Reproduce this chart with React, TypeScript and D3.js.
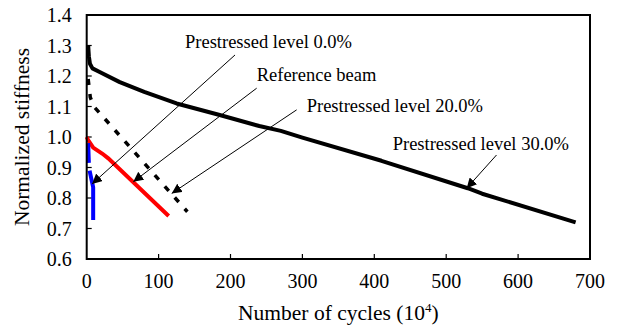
import React, { useEffect, useRef } from "react";
import * as d3 from "d3";

// series values: [cycles (10^4), normalized stiffness]
const level30 = [
  [2, 1.3], [3, 1.265], [4.5, 1.24], [8, 1.225], [18, 1.213], [46, 1.18], [80, 1.148],
  [125, 1.11], [185, 1.072], [240, 1.036], [270, 1.02], [300, 0.998], [410, 0.922],
  [530, 0.832], [550, 0.814], [680, 0.72],
];
const level20 = [[2, 1.19], [5, 1.13], [10, 1.1], [140, 0.755]];
const reference = [[0, 1.0], [2, 0.99], [9, 0.965], [22, 0.945], [30, 0.93], [114, 0.741]];
// null marks the break in the blue curve
const level0 = [[2, 0.98], [3, 0.915], [3, null], [4, 0.89], [9, 0.835], [9, 0.728]];

const xTicks = [0, 100, 200, 300, 400, 500, 600, 700];
const yTicks = [0.6, 0.7, 0.8, 0.9, 1.0, 1.1, 1.2, 1.3, 1.4];

// annotation labels: text, anchor in data units, arrow start and tip in data units
const labelText = ["Prestressed level 0.0%", "Reference beam", "Prestressed level 20.0%", "Prestressed level 30.0%"];
const labelPos = [[136.7, 1.292], [236.4, 1.184], [306, 1.082], [425.6, 0.959]];
const arrowFrom = [[206.3, 1.269], [236.4, 1.16], [292, 1.089], [570, 0.941]];
const arrowTo = [[7.4, 0.846], [64.8, 0.853], [118.2, 0.815], [528.5, 0.832]];

const W = 617, H = 329;
const margin = { top: 15, right: 27, bottom: 70, left: 86.7 };
const font = "Liberation Serif, Times New Roman, DejaVu Serif, serif";

export default function App() {
  const ref = useRef(null);

  useEffect(() => {
    const root = d3.select(ref.current);
    root.selectAll("*").remove();
    root.attr("font-family", font);

    const width = W - margin.left - margin.right;
    const height = H - margin.top - margin.bottom;

    const x = d3.scaleLinear().domain([0, 700]).range([0, width]);
    const y = d3.scaleLinear().domain([0.6, 1.4]).range([height, 0]);

    const defs = root.append("defs");
    defs.append("marker")
      .attr("id", "arrow")
      .attr("viewBox", "0 0 10 10")
      .attr("refX", 10).attr("refY", 5)
      .attr("markerWidth", 10).attr("markerHeight", 10)
      .attr("markerUnits", "userSpaceOnUse")
      .attr("orient", "auto")
      .append("path")
      .attr("d", "M0,0 L10,5 L0,10 z")
      .attr("fill", "#000");

    const g = root.append("g").attr("transform", `translate(${margin.left},${margin.top})`);

    // ticks inside the frame
    g.selectAll(".xt").data(xTicks.slice(1, -1)).enter().append("line")
      .attr("x1", d => x(d)).attr("x2", d => x(d))
      .attr("y1", height).attr("y2", height - 5)
      .attr("stroke", "#000").attr("stroke-width", 1.2);
    g.selectAll(".yt").data(yTicks.slice(1, -1)).enter().append("line")
      .attr("y1", d => y(d)).attr("y2", d => y(d))
      .attr("x1", 0).attr("x2", 5)
      .attr("stroke", "#000").attr("stroke-width", 1.2);

    g.selectAll(".xl").data(xTicks).enter().append("text")
      .attr("x", d => x(d)).attr("y", height + 29)
      .attr("text-anchor", "middle")
      .attr("font-size", 20)
      .text(d => d);
    g.selectAll(".yl").data(yTicks).enter().append("text")
      .attr("x", -15).attr("y", d => y(d))
      .attr("text-anchor", "end").attr("dominant-baseline", "central")
      .attr("font-size", 20)
      .text(d => d.toFixed(1));

    const line = d3.line()
      .defined(d => d[1] != null)
      .x(d => x(d[0])).y(d => y(d[1]));

    g.append("path").datum(level20).attr("d", line)
      .attr("fill", "none").attr("stroke", "#000").attr("stroke-width", 3.5)
      .attr("stroke-dasharray", "6,9");
    g.append("path").datum(level30).attr("d", line)
      .attr("fill", "none").attr("stroke", "#000").attr("stroke-width", 4)
      .attr("stroke-linejoin", "round");
    g.append("path").datum(reference).attr("d", line)
      .attr("fill", "none").attr("stroke", "#ff0000").attr("stroke-width", 4);
    g.append("path").datum(level0).attr("d", line)
      .attr("fill", "none").attr("stroke", "#0000ff").attr("stroke-width", 4);

    // frame
    g.append("rect")
      .attr("x", 0).attr("y", 0).attr("width", width).attr("height", height)
      .attr("fill", "none").attr("stroke", "#000").attr("stroke-width", 2);

    // annotations
    labelText.forEach((t, i) => {
      g.append("line")
        .attr("x1", x(arrowFrom[i][0])).attr("y1", y(arrowFrom[i][1]))
        .attr("x2", x(arrowTo[i][0])).attr("y2", y(arrowTo[i][1]))
        .attr("stroke", "#000").attr("stroke-width", 1)
        .attr("marker-end", "url(#arrow)");
      g.append("text")
        .attr("x", x(labelPos[i][0])).attr("y", y(labelPos[i][1]))
        .attr("font-size", 18.5)
        .text(t);
    });

    // axis titles
    const xt = g.append("text")
      .attr("x", width / 2).attr("y", height + 61)
      .attr("text-anchor", "middle")
      .attr("font-size", 21.5);
    xt.append("tspan").text("Number of cycles (10");
    xt.append("tspan").attr("dy", -8).attr("font-size", 13).text("4");
    xt.append("tspan").attr("dy", 8).text(")");

    g.append("text")
      .attr("transform", `translate(${-margin.left + 29},${height / 2}) rotate(-90)`)
      .attr("text-anchor", "middle")
      .attr("font-size", 21.5)
      .text("Normalized stiffness");
  }, []);

  return (
    <svg ref={ref} width={W} height={H}
      style={{ position: "absolute", left: 0, top: 0, background: "#fff" }} />
  );
}
